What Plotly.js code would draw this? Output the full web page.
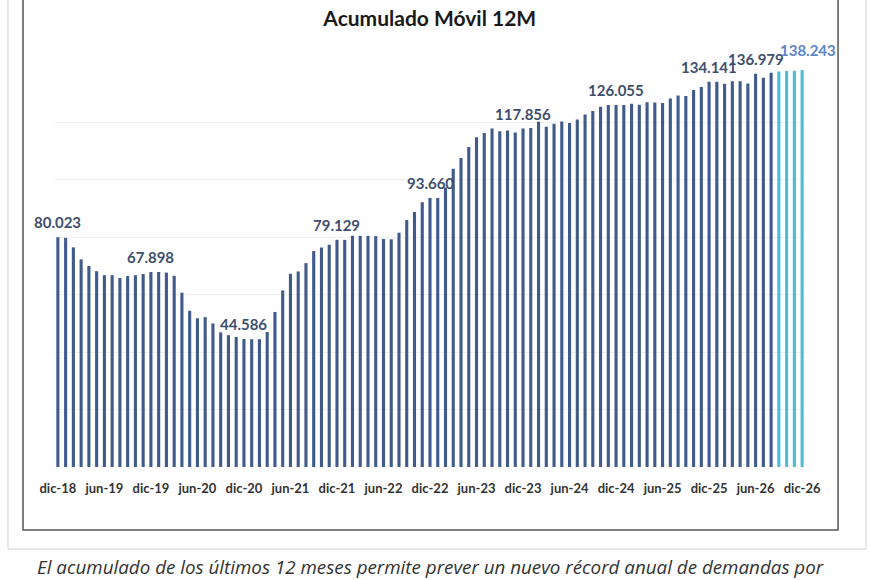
<!DOCTYPE html>
<html>
<head>
<meta charset="utf-8">
<script src="https://cdn.plot.ly/plotly-3.0.1.min.js"></script>
<style>
  html, body { margin: 0; padding: 0; background: #fff; }
  #chart { width: 870px; height: 580px; }
</style>
</head>
<body>
<div id="chart"></div>
<script>
// meses en español, la serie empieza en dic-18
const meses = ['ene','feb','mar','abr','may','jun','jul','ago','sep','oct','nov','dic'];

// acumulado móvil 12 meses (miles), dic-18 .. dic-26
const valores = [
  80.023, 79.8, 76.5, 72.3, 70.0, 68.2, 66.8, 66.8, 65.8, 66.5, 66.8, 67.2,
  67.898, 67.9, 67.7, 66.6, 60.7, 54.4, 51.8, 52.2, 50.0, 46.9, 45.9, 45.3,
  44.586, 44.5, 44.5, 47.0, 54.0, 61.5, 67.3, 68.1, 71.0, 75.2, 76.4, 77.4,
  79.129, 79.1, 80.5, 80.5, 80.5, 80.4, 79.4, 79.3, 81.6, 86.0, 88.8, 92.2,
  93.660, 93.7, 97.3, 103.9, 107.6, 111.4, 114.8, 116.3, 117.9, 116.9, 117.2, 116.5,
  117.856, 118.1, 120.2, 118.5, 119.5, 120.3, 119.8, 121.0, 122.8, 124.0, 125.5, 126.1,
  126.055, 126.1, 126.5, 126.2, 127.0, 126.9, 126.8, 128.3, 129.4, 129.2, 131.3, 132.3,
  134.141, 134.2, 133.5, 134.3, 134.3, 133.6, 136.979, 135.6, 137.3, 137.7, 137.9, 138.0,
  138.243
];

// cuantos meses finales son proyección (color claro)
const nProyectados = 4;

// puntos con etiqueta de valor
const etiquetas = ['dic-18','dic-19','dic-20','dic-21','dic-22','dic-23','dic-24','dic-25','jun-26','dic-26'];

// etiquetas del eje x
const tickLabels = ['dic-18','jun-19','dic-19','jun-20','dic-20','jun-21','dic-21','jun-22','dic-22',
                    'jun-23','dic-23','jun-24','dic-24','jun-25','dic-25','jun-26','dic-26'];

// categorias mes-año
let categorias = [];
for (let i = 0; i < valores.length; i++) {
  let m = (11 + i) % 12;
  let a = 18 + Math.floor((11 + i) / 12);
  categorias.push(meses[m] + '-' + a);
}

const oscuro = '#3f5a8b';
const claro = '#4cbcd8';
let colores = valores.map((v, i) => i >= valores.length - nProyectados ? claro : oscuro);

let anotaciones = etiquetas.map(c => {
  let i = categorias.indexOf(c);
  let ultimo = i === valores.length - 1;
  return {
    x: c, y: valores[i], xref: 'x', yref: 'y',
    text: valores[i].toFixed(3),
    showarrow: false, yanchor: 'bottom', yshift: ultimo ? 9 : 4,
    xshift: ultimo ? 6 : 0,
    font: {family: 'Lato, sans-serif', size: 15, color: ultimo ? '#5b86c8' : '#3e4f6e', weight: 'bold'}
  };
});

// texto al pie
anotaciones.push({
  xref: 'paper', yref: 'paper', x: 0.5, y: -0.249, xanchor: 'center', yanchor: 'middle',
  showarrow: false,
  text: '<i>El acumulado de los últimos 12 meses permite prever un nuevo récord anual de demandas por</i>',
  font: {family: 'Open Sans, sans-serif', size: 18.8, color: '#333'}
});

const trace = {
  type: 'bar',
  x: categorias,
  y: valores,
  marker: {color: colores},
  hoverinfo: 'x+y'
};

const layout = {
  width: 870, height: 580,
  margin: {l: 54, r: 64, t: 65, b: 113},
  paper_bgcolor: '#fff', plot_bgcolor: '#fff',
  bargap: 0.6,
  showlegend: false,
  title: {
    text: '<b>Acumulado Móvil 12M</b>',
    x: 0.494, xanchor: 'center', y: 0.968, yanchor: 'middle',
    font: {family: 'Lato, sans-serif', size: 21, color: '#1a1a1a'}
  },
  xaxis: {
    type: 'category',
    range: [-0.5, valores.length - 0.5],
    autorange: false,
    tickmode: 'array',
    tickvals: tickLabels,
    ticktext: tickLabels.map(t => '<b>' + t + '</b>'),
    tickfont: {family: 'Lato, sans-serif', size: 13, color: '#333'},
    ticklabelstandoff: 12,
    showgrid: false, showline: false, ticks: '', ticklen: 0,
    tickangle: 0
  },
  yaxis: {
    range: [0, 140],
    dtick: 20,
    showticklabels: false,
    gridcolor: '#f0f0f0',
    zeroline: false,
    showline: false
  },
  annotations: anotaciones,
  shapes: [
    {type: 'rect', xref: 'paper', yref: 'paper', x0: -0.0612, x1: 1.0798, y0: -0.204, y1: 1.3,
     line: {color: '#d0d0d0', width: 1}, layer: 'below'},
    {type: 'rect', xref: 'paper', yref: 'paper', x0: -0.0412, x1: 1.0426, y0: -0.1567, y1: 1.3,
     line: {color: '#555', width: 1.5}, layer: 'below'}
  ]
};

Plotly.newPlot('chart', [trace], layout, {displayModeBar: false, staticPlot: true});
</script>
</body>
</html>
